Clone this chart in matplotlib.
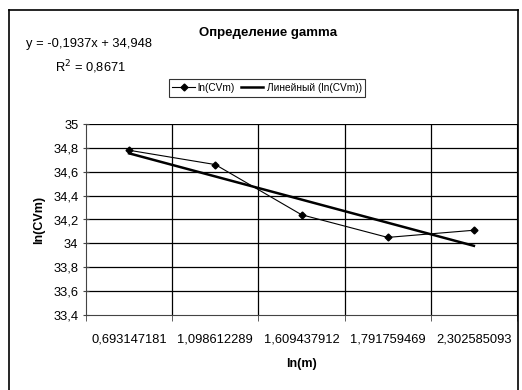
import matplotlib.pyplot as plt
import matplotlib.lines as mlines
import numpy as np

# Data
categories = ['0,693147181', '1,098612289', '1,609437912', '1,791759469', '2,302585093']
ln_cvm = [34.78, 34.66, 34.24, 34.05, 34.11]
slope = -0.1937
intercept = 34.948
y_ticks = [33.4, 33.6, 33.8, 34.0, 34.2, 34.4, 34.6, 34.8, 35.0]
y_tick_labels = ['33,4', '33,6', '33,8', '34', '34,2', '34,4', '34,6', '34,8', '35']

plt.rcParams['font.family'] = ['Liberation Sans', 'DejaVu Sans']

W, H = 522, 390
fig = plt.figure(figsize=(W / 100, H / 100), dpi=100)
fig.patch.set_facecolor('white')

# chart area border
for xs, ys in [([9, 9], [10, H + 5]), ([9, 518], [10, 10]), ([518, 518], [10, H + 5])]:
    fig.add_artist(mlines.Line2D([x / W for x in xs], [1 - y / H for y in ys],
                                 color='black', lw=1.2))

ax = fig.add_axes([86 / W, 1 - 315 / H, (517 - 86) / W, (315 - 124) / H])

x = np.arange(len(categories))
ax.set_xlim(-0.5, len(categories) - 0.5)
ax.set_ylim(33.4, 35.0)

# grid at category boundaries and y ticks
for b in np.arange(0.5, len(categories) - 0.5, 1):
    ax.axvline(b, color='black', lw=0.9, zorder=1)
for yv in y_ticks[1:]:
    ax.axhline(yv, color='black', lw=0.9, zorder=1)

# series
ax.plot(x, ln_cvm, color='black', lw=0.8, marker='D', ms=3.5, zorder=3,
        label='ln(CVm)')
# linear trendline (Excel x = 1..n)
xt = np.arange(1, len(categories) + 1)
ax.plot(x, slope * xt + intercept, color='black', lw=1.8, zorder=2,
        label='Линейный (ln(CVm))')

ax.set_xticks(x)
ax.set_xticklabels(categories, fontsize=9.3)
ax.set_xticks(np.arange(-0.5, len(categories), 1), minor=True)
ax.tick_params(axis='x', which='major', length=0, pad=13)
ax.tick_params(axis='x', which='minor', length=4, color='#444444')
ax.set_yticks(y_ticks)
ax.set_yticklabels(y_tick_labels, fontsize=9.3)
ax.tick_params(axis='y', direction='inout', length=5, color='#444444', pad=3)

for s in ['left', 'bottom']:
    ax.spines[s].set_color('#444444')
ax.spines['top'].set_visible(False)
ax.spines['right'].set_color('black')

ax.set_xlabel('ln(m)', fontsize=9, fontweight='bold', labelpad=9)
ax.set_ylabel('ln(CVm)', fontsize=9, fontweight='bold', labelpad=6)

fig.text(268 / W, 1 - 33 / H, 'Определение gamma', fontsize=9.5,
         fontweight='bold', ha='center', va='center')
fig.text(89 / W, 1 - 44 / H, 'y = -0,1937x + 34,948', fontsize=9.3,
         ha='center', va='center')
fig.text(90 / W, 1 - 67 / H, 'R$^2$ = 0,8671', fontsize=9.3,
         ha='center', va='center')

leg = fig.legend(loc='center', bbox_to_anchor=(267 / W, 1 - 88 / H), ncol=2,
                 fontsize=7.3, frameon=True, fancybox=False, edgecolor='black',
                 handlelength=2.2, handletextpad=0.3, columnspacing=0.6,
                 borderpad=0.35)
leg.get_frame().set_linewidth(0.8)

fig.savefig('out.png', dpi=100, facecolor='white')
